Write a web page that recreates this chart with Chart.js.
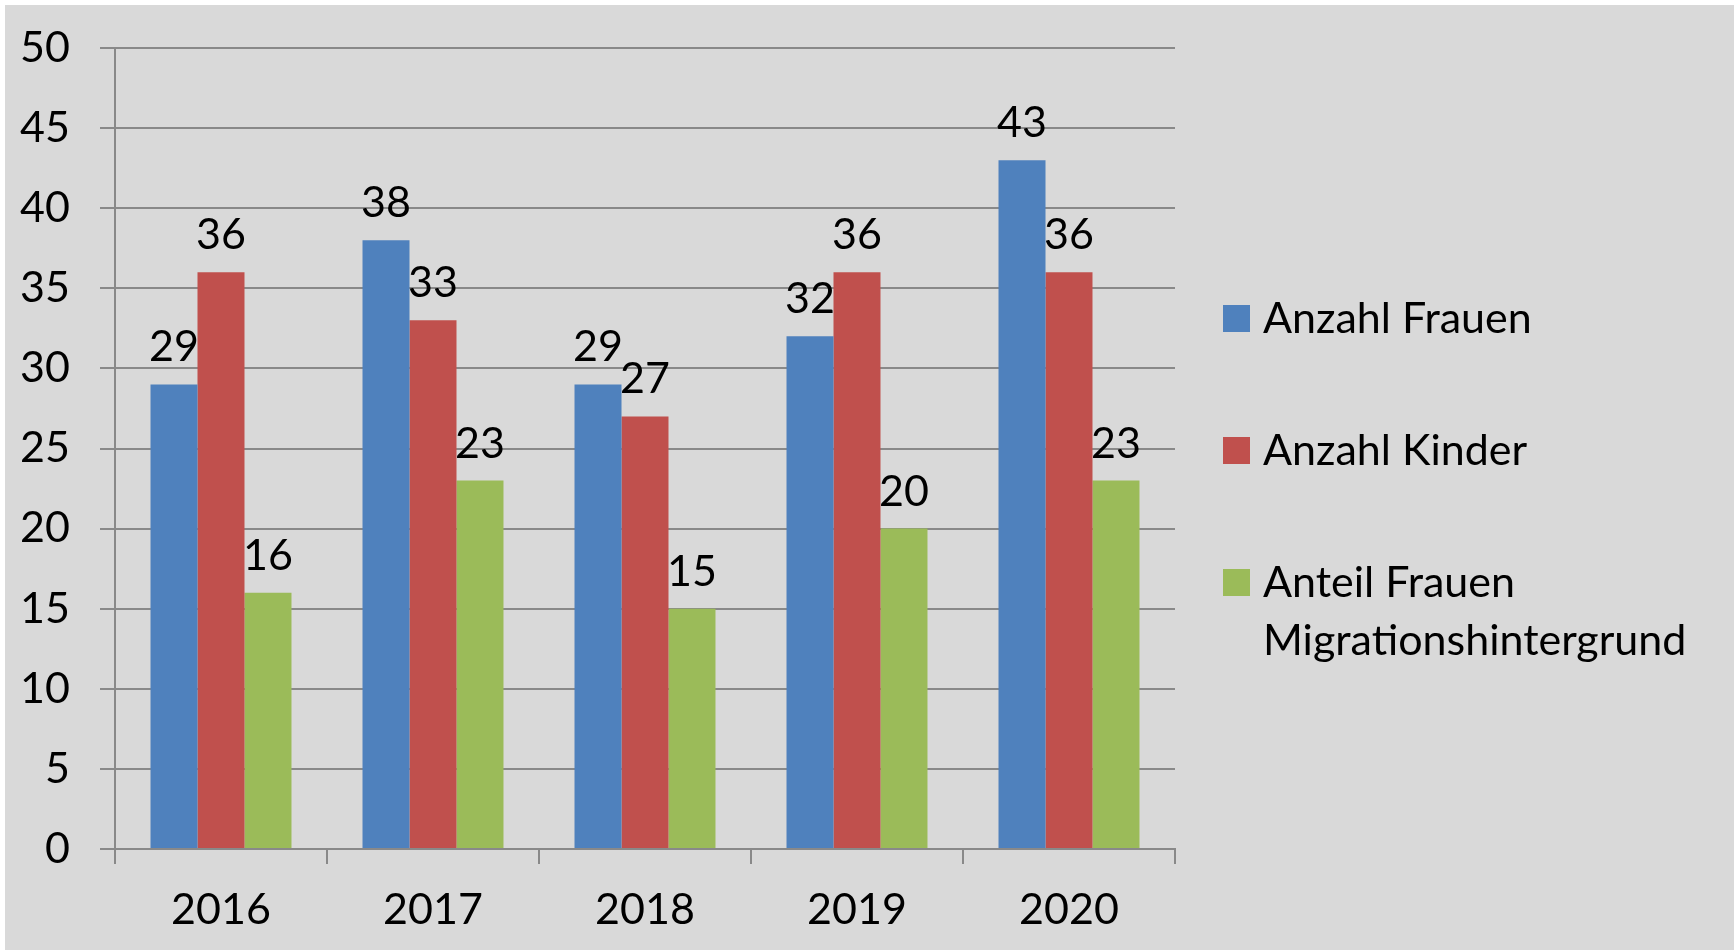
<!DOCTYPE html>
<html>
<head>
<meta charset="utf-8">
<script src="https://cdn.jsdelivr.net/npm/chart.js@4/dist/chart.umd.min.js"></script>
<style>
	body { margin: 0; background: #ffffff; }
	#wrap { position: absolute; left: 0; top: 0; width: 1734px; height: 950px; }
</style>
</head>
<body>
<div id="wrap"><canvas id="barChart" width="1734" height="950"></canvas></div>
<script>
const years = ['2016', '2017', '2018', '2019', '2020'];
const anzahlFrauen = [29, 38, 29, 32, 43];
const anzahlKinder = [36, 33, 27, 36, 36];
const anteilMigration = [16, 23, 15, 20, 23];
const seriesNames = ['Anzahl Frauen', 'Anzahl Kinder', ['Anteil Frauen', 'Migrationshintergrund']];
const yTicks = [0, 5, 10, 15, 20, 25, 30, 35, 40, 45, 50];

const FONT = 'Lato, Carlito, Calibri, sans-serif';
const FONT_SIZE = 43;
const lineColor = '#898989';

// grey panel behind the chart (white edge at top/left like the original)
const panelBg = {
	id: 'panelBg',
	beforeDraw(chart) {
		const ctx = chart.ctx;
		ctx.save();
		ctx.fillStyle = '#d9d9d9';
		ctx.fillRect(5, 5, chart.width - 5, chart.height - 5);
		ctx.restore();
	}
};

// value labels above each bar, drawn per dataset so the next bars cover them
const barLabels = {
	id: 'barLabels',
	afterDatasetDraw(chart, args) {
		const ctx = chart.ctx;
		const ds = chart.data.datasets[args.index];
		ctx.save();
		ctx.font = FONT_SIZE + 'px ' + FONT;
		ctx.fillStyle = '#000000';
		ctx.textAlign = 'center';
		ctx.textBaseline = 'alphabetic';
		args.meta.data.forEach(function(bar, i) {
			ctx.fillText(String(ds.data[i]), bar.x, bar.y - 23);
		});
		ctx.restore();
	}
};

// legend on the right, with the two-line last entry
const sideLegend = {
	id: 'sideLegend',
	afterDraw(chart) {
		const ctx = chart.ctx;
		ctx.save();
		ctx.font = FONT_SIZE + 'px ' + FONT;
		ctx.textAlign = 'left';
		ctx.textBaseline = 'alphabetic';
		chart.data.datasets.forEach(function(ds, i) {
			const top = 305 + i * 132;
			ctx.fillStyle = ds.backgroundColor;
			ctx.fillRect(1223, top, 27, 27);
			ctx.fillStyle = '#000000';
			const lines = Array.isArray(ds.label) ? ds.label : [ds.label];
			lines.forEach(function(txt, j) {
				ctx.fillText(txt, 1263, top + 28 + j * 58);
			});
		});
		ctx.restore();
	}
};

const ctx = document.getElementById('barChart').getContext('2d');
const myChart = new Chart(ctx, {
	type: 'bar',
	data: {
		labels: years,
		datasets: [
			{
				label: seriesNames[0],
				data: anzahlFrauen,
				backgroundColor: '#4f81bd'
			},
			{
				label: seriesNames[1],
				data: anzahlKinder,
				backgroundColor: '#c0504d'
			},
			{
				label: seriesNames[2],
				data: anteilMigration,
				backgroundColor: '#9bbb59'
			}
		]
	},
	options: {
		responsive: false,
		devicePixelRatio: 1,
		animation: false,
		layout: {
			padding: { left: 5, top: 48, right: 559, bottom: 0 }
		},
		datasets: {
			bar: {
				categoryPercentage: 0.665,
				barPercentage: 1.0
			}
		},
		plugins: {
			legend: { display: false },
			tooltip: { enabled: false }
		},
		scales: {
			x: {
				grid: {
					offset: true,
					drawOnChartArea: false,
					drawTicks: true,
					tickLength: 15,
					color: lineColor,
					lineWidth: 2
				},
				border: { display: true, color: lineColor, width: 2 },
				ticks: {
					font: { family: FONT, size: FONT_SIZE },
					color: '#000000',
					padding: 20,
					maxRotation: 0
				},
				afterFit: function(scale) {
					scale.height = 101;
					scale.paddingLeft = 0;
					scale.paddingRight = 0;
				}
			},
			y: {
				min: 0,
				max: 50,
				afterBuildTicks: function(scale) {
					scale.ticks = yTicks.map(v => ({ value: v }));
				},
				grid: {
					drawTicks: true,
					tickLength: 15,
					color: lineColor,
					lineWidth: 2
				},
				border: { display: true, color: lineColor, width: 2 },
				ticks: {
					font: { family: FONT, size: FONT_SIZE },
					color: '#000000',
					padding: 30
				},
				afterFit: function(scale) {
					scale.width = 110;
					scale.paddingTop = 0;
					scale.paddingBottom = 0;
				}
			}
		}
	},
	plugins: [panelBg, barLabels, sideLegend]
});
</script>
</body>
</html>
